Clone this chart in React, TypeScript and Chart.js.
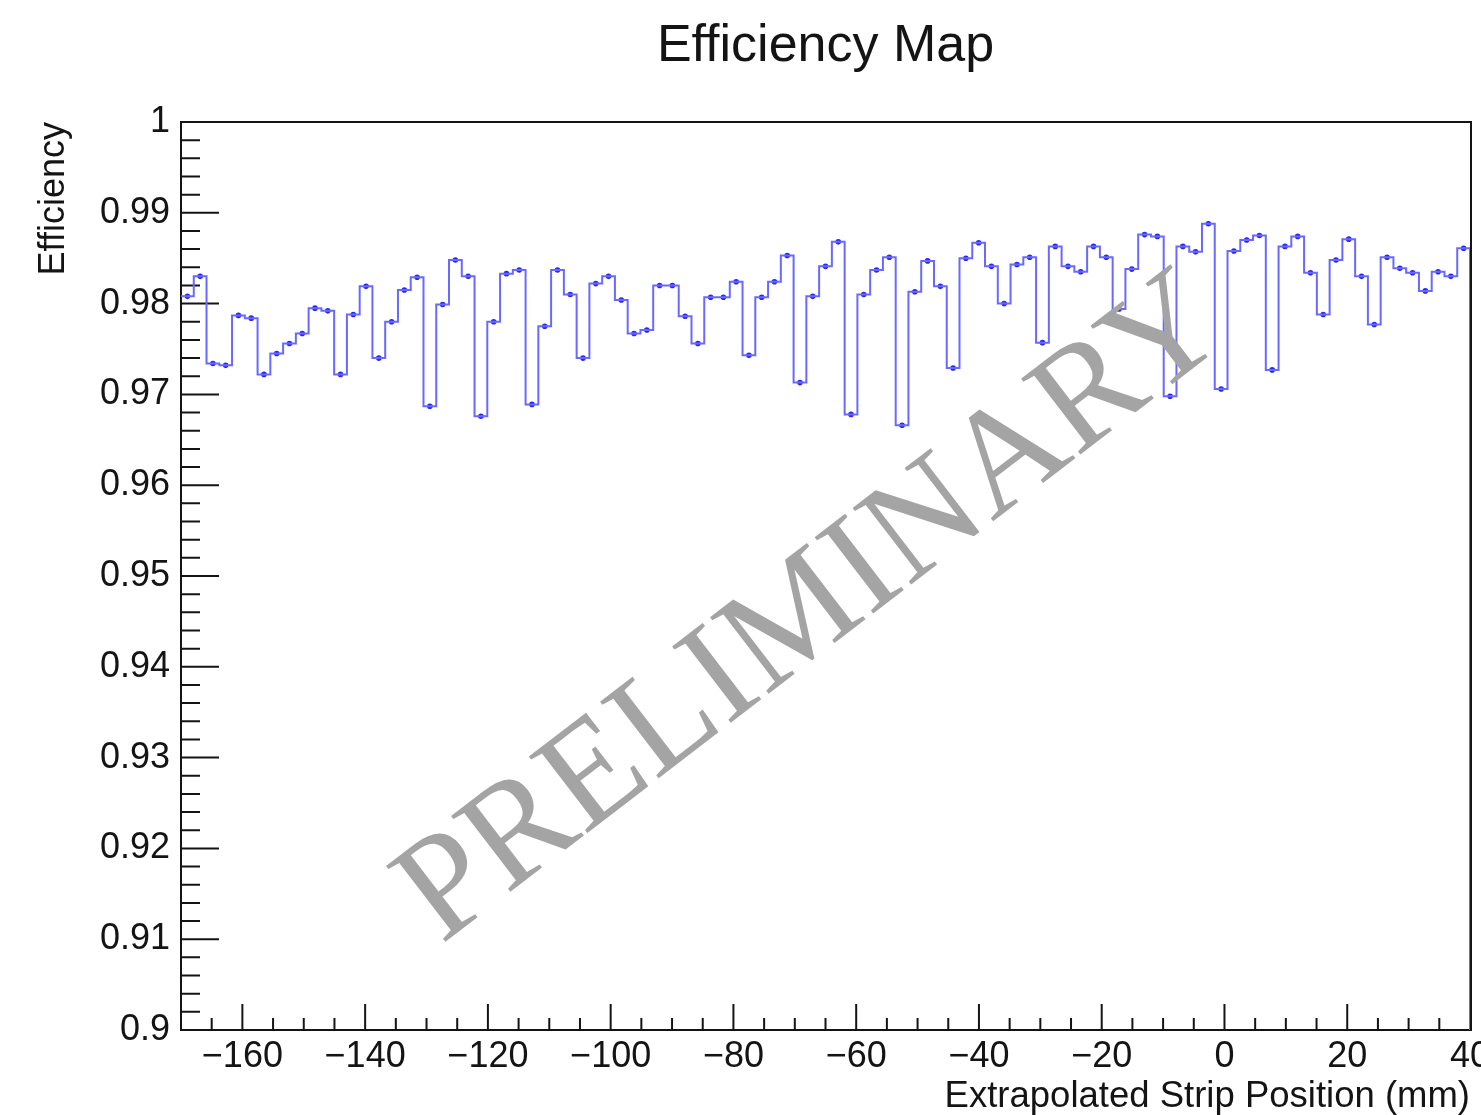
import React, { useEffect, useRef } from 'react';
import { Chart, registerables } from 'chart.js';

Chart.register(...registerables);

const TITLE = 'Efficiency Map';
const X_TITLE = 'Extrapolated Strip Position (mm)';
const Y_TITLE = 'Efficiency';
const WATERMARK = 'PRELIMINARY';

const X_MIN = -170;
const X_MAX = 40;
const Y_MIN = 0.9;
const Y_MAX = 1.0;

// efficiency per bin (bins evenly spanning X_MIN..X_MAX)
const efficiency = [
  0.9808, 0.9830, 0.9734, 0.9732, 0.9787, 0.9784, 0.9722, 0.9745, 0.9756, 0.9767,
  0.9795, 0.9792, 0.9722, 0.9788, 0.9819, 0.9740, 0.9780, 0.9815, 0.9829, 0.9687,
  0.9799, 0.9848, 0.9830, 0.9676, 0.9780, 0.9833, 0.9837, 0.9689, 0.9775, 0.9837,
  0.9810, 0.9740, 0.9822, 0.9830, 0.9804, 0.9767, 0.9771, 0.9820, 0.9820, 0.9786,
  0.9756, 0.9807, 0.9807, 0.9824, 0.9743, 0.9807, 0.9824, 0.9853, 0.9713, 0.9808,
  0.9841, 0.9868, 0.9678, 0.9810, 0.9837, 0.9851, 0.9666, 0.9813, 0.9847, 0.9819,
  0.9729, 0.9850, 0.9867, 0.9841, 0.9800, 0.9843, 0.9851, 0.9757, 0.9863, 0.9841,
  0.9835, 0.9863, 0.9851, 0.9794, 0.9838, 0.9876, 0.9874, 0.9698, 0.9863, 0.9857,
  0.9888, 0.9706, 0.9858, 0.9870, 0.9875, 0.9727, 0.9863, 0.9874, 0.9834, 0.9788,
  0.9848, 0.9871, 0.9830, 0.9777, 0.9851, 0.9839, 0.9834, 0.9814, 0.9835, 0.9830,
  0.9861,
];

const xMajorTicks = [-160, -140, -120, -100, -80, -60, -40, -20, 0, 20, 40];
const xMinorStep = 5;
const yMajorTicks = [0.9, 0.91, 0.92, 0.93, 0.94, 0.95, 0.96, 0.97, 0.98, 0.99, 1.0];
const yMinorStep = 0.002;

const SANS = '"Liberation Sans", Arial, Helvetica, sans-serif';
const SERIF = '"Liberation Serif", "Times New Roman", serif';
const INK = '#141414';
const HIST_COLOR = 'rgb(105,105,255)';
const MARKER_COLOR = 'rgb(40,40,245)';

const framePlugin = {
  id: 'rootFrame',
  beforeDatasetsDraw(chart: any) {
    const { ctx, chartArea: a, scales } = chart;
    const xs = scales.x;
    const ys = scales.y;
    ctx.save();
    ctx.strokeStyle = INK;
    ctx.lineWidth = 2;
    ctx.strokeRect(a.left, a.top, a.right - a.left + 1, a.bottom - a.top);
    ctx.beginPath();
    // x ticks (inward, upward from the bottom axis)
    const xStart = Math.ceil(X_MIN / xMinorStep) * xMinorStep;
    for (let k = 0; xStart + k * xMinorStep <= X_MAX + 1e-9; k++) {
      const v = xStart + k * xMinorStep;
      if (v <= X_MIN) continue;
      const major = xMajorTicks.some((t) => Math.abs(t - v) < 1e-6);
      const px = xs.getPixelForValue(v);
      ctx.moveTo(px, a.bottom);
      ctx.lineTo(px, a.bottom - (major ? 26 : 12));
    }
    // y ticks (inward, rightward from the left axis)
    const n = Math.round((Y_MAX - Y_MIN) / yMinorStep);
    for (let k = 1; k < n; k++) {
      const v = Y_MIN + k * yMinorStep;
      const major = k % 5 === 0;
      const py = ys.getPixelForValue(v);
      ctx.moveTo(a.left, py);
      ctx.lineTo(a.left + (major ? 38 : 19), py);
    }
    ctx.stroke();
    ctx.restore();
  },
  afterDraw(chart: any) {
    const { ctx } = chart;
    const size = 147;
    ctx.save();
    ctx.translate(807, 603);
    ctx.rotate((-37.5 * Math.PI) / 180);
    ctx.font = `${size}px ${SERIF}`;
    ctx.fillStyle = '#a4a4a4';
    ctx.textAlign = 'center';
    ctx.textBaseline = 'alphabetic';
    ctx.fillText(WATERMARK, 0, size * 0.331);
    ctx.restore();
  },
};

export default function App() {
  const canvasRef = useRef<HTMLCanvasElement | null>(null);

  useEffect(() => {
    const canvas = canvasRef.current;
    if (!canvas) return;
    const binWidth = (X_MAX - X_MIN) / efficiency.length;
    const stepData = efficiency.map((v, i) => ({ x: X_MIN + i * binWidth, y: v }));
    stepData.push({ x: X_MAX, y: efficiency[efficiency.length - 1] });
    stepData.push({ x: X_MAX, y: 0 });
    const markerData = efficiency.map((v, i) => ({ x: X_MIN + (i + 0.5) * binWidth, y: v }));

    const chart = new Chart(canvas, {
      type: 'line',
      data: {
        datasets: [
          {
            data: stepData,
            stepped: 'before',
            borderColor: HIST_COLOR,
            borderWidth: 2,
            pointRadius: 0,
            fill: false,
          },
          {
            data: markerData,
            showLine: false,
            pointRadius: 2.8,
            pointBackgroundColor: MARKER_COLOR,
            pointBorderWidth: 0,
            borderColor: MARKER_COLOR,
          },
        ],
      } as any,
      options: {
        animation: false,
        responsive: false,
        maintainAspectRatio: false,
        devicePixelRatio: 1,
        events: [],
        layout: { padding: { left: 0, right: 11, top: 0, bottom: 0 } },
        plugins: {
          legend: { display: false },
          tooltip: { enabled: false },
          title: {
            display: true,
            text: TITLE,
            fullSize: false,
            color: INK,
            font: { family: SANS, size: 52, weight: 'normal', lineHeight: 1.2 },
            padding: { top: 15, bottom: 44.6 },
          },
        },
        scales: {
          x: {
            type: 'linear',
            min: X_MIN,
            max: X_MAX,
            grid: { display: false, drawTicks: false },
            border: { display: false },
            afterBuildTicks: (s: any) => {
              s.ticks = xMajorTicks.map((v) => ({ value: v }));
            },
            afterFit: (s: any) => {
              s.height = 85;
              s.paddingLeft = 0;
              s.paddingRight = 0;
            },
            ticks: {
              autoSkip: false,
              maxRotation: 0,
              padding: 5,
              color: INK,
              font: { family: SANS, size: 36 },
              callback: (v: any) => (Number(v) < 0 ? '\u2212' + Math.abs(Number(v)) : String(v)),
            },
            title: {
              display: true,
              text: X_TITLE,
              align: 'end',
              color: INK,
              font: { family: SANS, size: 36.5, lineHeight: 1 },
              padding: { top: 0, bottom: 0 },
            },
          },
          y: {
            type: 'linear',
            min: Y_MIN,
            max: Y_MAX,
            grid: { display: false, drawTicks: false },
            border: { display: false },
            afterBuildTicks: (s: any) => {
              s.ticks = yMajorTicks.map((v) => ({ value: v }));
            },
            afterFit: (s: any) => {
              s.width = 181;
              s.paddingTop = 0;
              s.paddingBottom = 0;
            },
            ticks: {
              autoSkip: false,
              padding: 11,
              color: INK,
              font: { family: SANS, size: 36 },
              callback: (v: any) => String(Math.round(Number(v) * 100) / 100),
            },
            title: {
              display: true,
              text: Y_TITLE,
              align: 'end',
              color: INK,
              font: { family: SANS, size: 36, lineHeight: 1 },
              padding: { top: 36, bottom: 0 },
            },
          },
        },
      } as any,
      plugins: [framePlugin],
    });
    return () => chart.destroy();
  }, []);

  return (
    <div style={{ position: 'fixed', left: 0, top: 0, width: 1481, height: 1115, background: '#fff' }}>
      <canvas ref={canvasRef} width={1481} height={1115} style={{ width: 1481, height: 1115, display: 'block' }} />
    </div>
  );
}
